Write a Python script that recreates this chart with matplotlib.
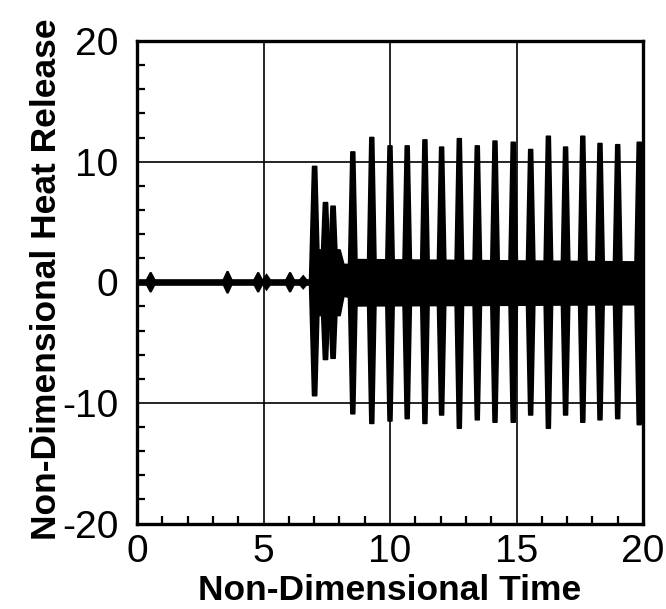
import numpy as np
import matplotlib
matplotlib.use("Agg")
import matplotlib.pyplot as plt
from matplotlib.ticker import MultipleLocator

# quiet phase: flat trace with small blips
quiet_span = [0.0, 6.95]
blip_t = [0.54, 3.58, 4.79, 5.12, 6.05, 6.57]
blip_amp = [0.8, 0.9, 0.8, 0.6, 0.8, 0.5]

# onset bursts
onset_t = [7.02, 7.45, 7.75]
onset_hi = [9.6, 6.6, 6.3]
onset_lo = [-9.4, -6.4, -6.3]

# periodic spikes
spike_t = [8.53, 9.28, 10.0, 10.68, 11.38, 12.04, 12.74, 13.45, 14.15,
           14.87, 15.56, 16.26, 16.94, 17.62, 18.30, 19.0, 19.85]
spike_hi = [10.8, 12.0, 11.3, 11.3, 11.8, 11.2, 11.9, 11.3, 11.7,
            11.6, 11.0, 12.1, 11.2, 12.1, 11.5, 11.4, 11.6]
spike_lo = [-10.9, -11.7, -11.5, -11.3, -11.7, -11.0, -12.1, -11.4, -11.6,
            -11.6, -11.0, -12.1, -11.0, -11.6, -11.4, -11.3, -11.8]

# envelope of the dense background oscillation
band_t = [6.92, 7.0, 8.0, 8.15, 8.4, 8.6, 20.0]
band_hi = [0.3, 2.7, 2.7, 1.5, 1.5, 1.9, 1.7]
band_lo = [-0.3, -2.7, -2.7, -1.1, -1.2, -1.9, -1.8]

x_ticks = [0, 5, 10, 15, 20]
y_ticks = [-20, -10, 0, 10, 20]

plt.rcParams['font.family'] = ['Liberation Sans', 'DejaVu Sans']

fig = plt.figure(figsize=(6.66, 6.09), dpi=100)
ax = fig.add_axes([137 / 666, 1 - 523.5 / 609, 506 / 666, 482.5 / 609])


def spindle(t, hi, lo, bw, tw):
    xs = [t - bw, t - tw, t + tw, t + bw, t + tw, t - tw]
    ys = [0, hi, hi, 0, lo, lo]
    ax.fill(xs, ys, color='k', lw=1.2, joinstyle='round', zorder=3)


ax.plot(quiet_span, [0, 0], color='k', lw=4.8, solid_capstyle='butt', zorder=3)
for t, a in zip(blip_t, blip_amp):
    ax.fill([t - 0.2, t, t + 0.2, t], [0, a, 0, -a], color='k', lw=1.5, zorder=3)

ax.fill_between(band_t, band_lo, band_hi, color='k', lw=1.5, zorder=3)

for t, hi, lo in zip(onset_t, onset_hi, onset_lo):
    spindle(t, hi, lo, 0.2, 0.08)
for t, hi, lo in zip(spike_t, spike_hi, spike_lo):
    spindle(t, hi, lo, 0.18, 0.075)

ax.set_xlim(0, 20)
ax.set_ylim(-20, 20)
ax.set_xticks(x_ticks)
ax.set_yticks(y_ticks)
ax.set_yticklabels([str(v) for v in y_ticks])
ax.xaxis.set_minor_locator(MultipleLocator(1))
ax.yaxis.set_minor_locator(MultipleLocator(2))
ax.grid(True, which='major', color='k', lw=1.2, zorder=1)
ax.tick_params(which='both', direction='in', top=False, right=False,
               width=1.6, colors='k')
ax.tick_params(which='major', length=0)
ax.tick_params(which='minor', length=6)
ax.tick_params(axis='x', which='major', labelsize=28, pad=7.5)
ax.tick_params(axis='y', which='major', labelsize=28, pad=13.5)
for s in ax.spines.values():
    s.set_linewidth(2.4)
    s.set_zorder(4)

ax.set_xlabel('Non-Dimensional Time', fontsize=25.5, fontweight='bold')
ax.set_ylabel('Non-Dimensional Heat Release', fontsize=25.5, fontweight='bold')
ax.xaxis.set_label_coords(0.5, -0.105)
ax.yaxis.set_label_coords(-0.147, 0.507)

fig.savefig('out.png', dpi=100)
